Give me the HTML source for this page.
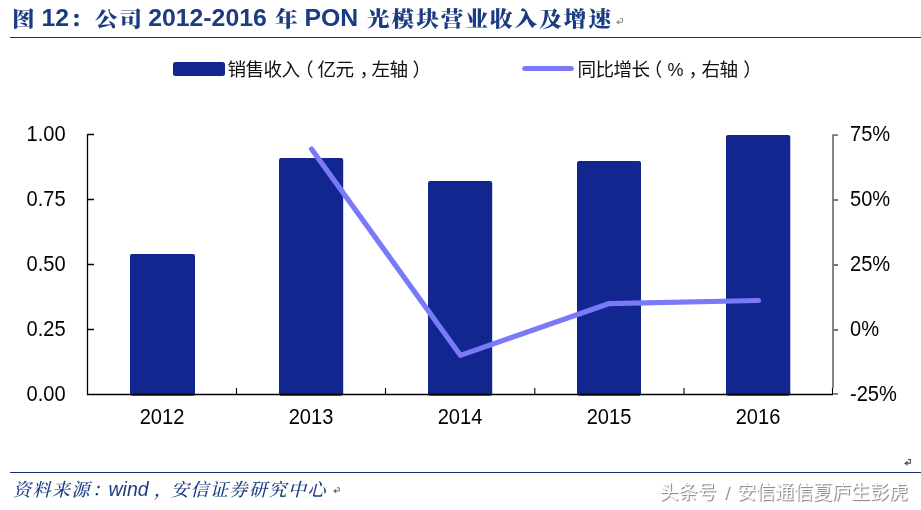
<!DOCTYPE html>
<html lang="zh-CN">
<head>
<meta charset="utf-8">
<title>图 12：公司 2012-2016 年 PON 光模块营业收入及增速</title>
<style>
html,body{margin:0;padding:0;background:#fff;}
body{width:921px;height:510px;position:relative;overflow:hidden;font-family:"Liberation Sans","Noto Sans CJK SC",sans-serif;}
.abs{position:absolute;white-space:nowrap;line-height:1;}
.title{color:#1c3c82;font-weight:bold;top:0;left:0;}
.title .k{display:inline-block;font-family:"Liberation Serif","Noto Serif CJK SC",serif;font-size:21px;font-weight:900;letter-spacing:1.78px;transform:scaleX(1.08);transform-origin:0 0;}
.title .a{font-family:"Liberation Sans",sans-serif;font-size:24.8px;font-weight:bold;}
.rule{position:absolute;left:10px;width:911px;height:1.4px;background:#1d2d6e;}
.leg{font-size:18.6px;letter-spacing:-0.6px;color:#111;font-family:"Liberation Sans","Noto Sans CJK SC",sans-serif;}
.src{color:#1c3c82;font-style:italic;}
.src .k{font-family:"Liberation Serif","Noto Serif CJK SC",serif;font-size:18px;letter-spacing:1.5px;font-weight:500;}
.src .a{font-family:"Liberation Sans",sans-serif;font-size:19.5px;}
.wm{font-family:"Liberation Sans","Noto Sans CJK SC",sans-serif;font-size:19px;color:#fff;text-shadow:1px 1px 1px #777;}
svg text{font-family:"Liberation Sans",sans-serif;font-size:20.1px;fill:#000;transform-box:fill-box;transform-origin:50% 82%;transform:scaleY(1.06);}
</style>
</head>
<body>
<!-- title -->
<div class="abs title" id="t1" style="left:12px;top:8.6px;"><span class="k">图</span></div>
<div class="abs title" id="t2" style="left:41.5px;top:5.5px;"><span class="a">12</span></div>
<div class="abs title" id="t3" style="left:69.5px;top:8.6px;"><span class="k">：</span></div>
<div class="abs title" id="t4" style="left:95px;top:8.6px;"><span class="k">公司</span></div>
<div class="abs title" id="t5" style="left:148.2px;top:5.5px;"><span class="a">2012-2016</span></div>
<div class="abs title" id="t6" style="left:275px;top:8.6px;"><span class="k">年</span></div>
<div class="abs title" id="t7" style="left:304.5px;top:5.5px;"><span class="a">PON</span></div>
<div class="abs title" id="t8" style="left:366.5px;top:8.6px;"><span class="k">光模块营业收入及增速</span></div>
<div class="rule" style="top:36.6px;"></div>

<!-- legend -->
<div class="abs leg" id="l1" style="left:227.5px;top:61px;">销售收入</div>
<div class="abs leg" id="l2" style="left:295px;top:61px;">（</div>
<div class="abs leg" id="l3" style="left:317.5px;top:61px;">亿元</div>
<div class="abs leg" id="l4" style="left:359.5px;top:61px;">，</div>
<div class="abs leg" id="l5" style="left:371.5px;top:61px;">左轴</div>
<div class="abs leg" id="l6" style="left:412.5px;top:61px;">）</div>
<div class="abs leg" id="m1" style="left:577.5px;top:61px;">同比增长</div>
<div class="abs leg" id="m2" style="left:643.8px;top:61px;">（</div>
<div class="abs leg" id="m3" style="left:667.5px;top:61.3px;font-size:18px;letter-spacing:0;">%</div>
<div class="abs leg" id="m4" style="left:688.5px;top:61px;">，</div>
<div class="abs leg" id="m5" style="left:701.5px;top:61px;">右轴</div>
<div class="abs leg" id="m6" style="left:743.3px;top:61px;">）</div>

<!-- chart -->
<svg class="abs" style="left:0;top:0;" width="921" height="510" viewBox="0 0 921 510">
  <!-- legend swatches -->
  <rect x="173" y="62" width="52" height="14" rx="2.5" fill="#11268e"/>
  <line x1="524.7" y1="68.4" x2="571.3" y2="68.4" stroke="#7a7af8" stroke-width="5" stroke-linecap="round"/>
  <!-- bars -->
  <g fill="#11268e">
    <rect x="130" y="254" width="65" height="141.8" rx="2"/>
    <rect x="279" y="158" width="64.2" height="237.8" rx="2"/>
    <rect x="428" y="181" width="64.2" height="214.8" rx="2"/>
    <rect x="577" y="161" width="64" height="234.8" rx="2"/>
    <rect x="726" y="135" width="64.3" height="260.8" rx="2"/>
  </g>
  <!-- left + bottom axis -->
  <g stroke="#000" stroke-width="1.3" fill="none">
    <path d="M87.5 134 V394.5 H833"/>
    <path d="M87.5 134.5 H94 M87.5 199.5 H94 M87.5 264.5 H94 M87.5 329.5 H94"/>
    <path d="M236.5 394 V388 M385.5 394 V388 M534.8 394 V388 M684 394 V388 M832.5 394 V388" stroke-width="1.1"/>
  </g>
  <!-- right axis -->
  <g stroke="#787878" stroke-width="1.8" fill="none">
    <path d="M833 134.2 V388"/>
    <path d="M833 135.1 H838 M833 200 H838 M833 265 H838 M833 330 H838 M833 393.8 H838"/>
  </g>
  <!-- line -->
  <polyline points="311.5,149 460.5,355.4 608.5,303.7 758.5,300.5" fill="none" stroke="#7a7af8" stroke-width="5.2" stroke-linecap="round" stroke-linejoin="round"/>
  <!-- y left labels -->
  <g text-anchor="end">
    <text x="65.7" y="141">1.00</text>
    <text x="65.7" y="206">0.75</text>
    <text x="65.7" y="271">0.50</text>
    <text x="65.7" y="336">0.25</text>
    <text x="65.7" y="401">0.00</text>
  </g>
  <!-- y right labels -->
  <g text-anchor="start">
    <text x="850" y="140.6">75%</text>
    <text x="850" y="205.6">50%</text>
    <text x="850" y="270.6">25%</text>
    <text x="850" y="335.6">0%</text>
    <text x="850" y="400.6">-25%</text>
  </g>
  <!-- x labels -->
  <g text-anchor="middle">
    <text x="162" y="423.8">2012</text>
    <text x="311" y="423.8">2013</text>
    <text x="460" y="423.8">2014</text>
    <text x="609" y="423.8">2015</text>
    <text x="758" y="423.8">2016</text>
  </g>
  <!-- paragraph marks -->
  <g fill="none" stroke="#909090" stroke-width="1">
    <path d="M620 18.5 H622.5 V22.2 H618.5"/>
    <path d="M616 22.3 L619.3 20 V24.8 Z" fill="#909090" stroke="none"/>
  </g>
  <g fill="none" stroke="#6a6a6a" stroke-width="1">
    <path d="M337 487.8 H339.3 V491 H335.5"/>
    <path d="M333 491 L336.2 488.8 V493.4 Z" fill="#6a6a6a" stroke="none"/>
  </g>
  <g fill="none" stroke="#555" stroke-width="1.1">
    <path d="M908 459.6 H910.5 V463.1 H906.5"/>
    <path d="M904 463.2 L907.6 460.7 V465.7 Z" fill="#555" stroke="none"/>
  </g>
</svg>

<!-- footer -->
<div class="rule" style="top:471.6px;"></div>
<div class="abs src" id="s1" style="left:13px;top:481px;"><span class="k">资料来源</span></div>
<div class="abs src" id="s2" style="left:92px;top:481px;"><span class="k">：</span></div>
<div class="abs src" id="s3" style="left:108.5px;top:479.5px;"><span class="a">wind</span></div>
<div class="abs src" id="s4" style="left:154px;top:481px;"><span class="k">，</span></div>
<div class="abs src" id="s5" style="left:171px;top:481px;"><span class="k">安信证券研究中心</span></div>
<div class="abs wm" id="w1" style="left:659.5px;top:483px;">头条号<span style="display:inline-block;width:20.5px;text-align:center;"> / </span>安信通信夏庐生彭虎</div>
</body>
</html>
